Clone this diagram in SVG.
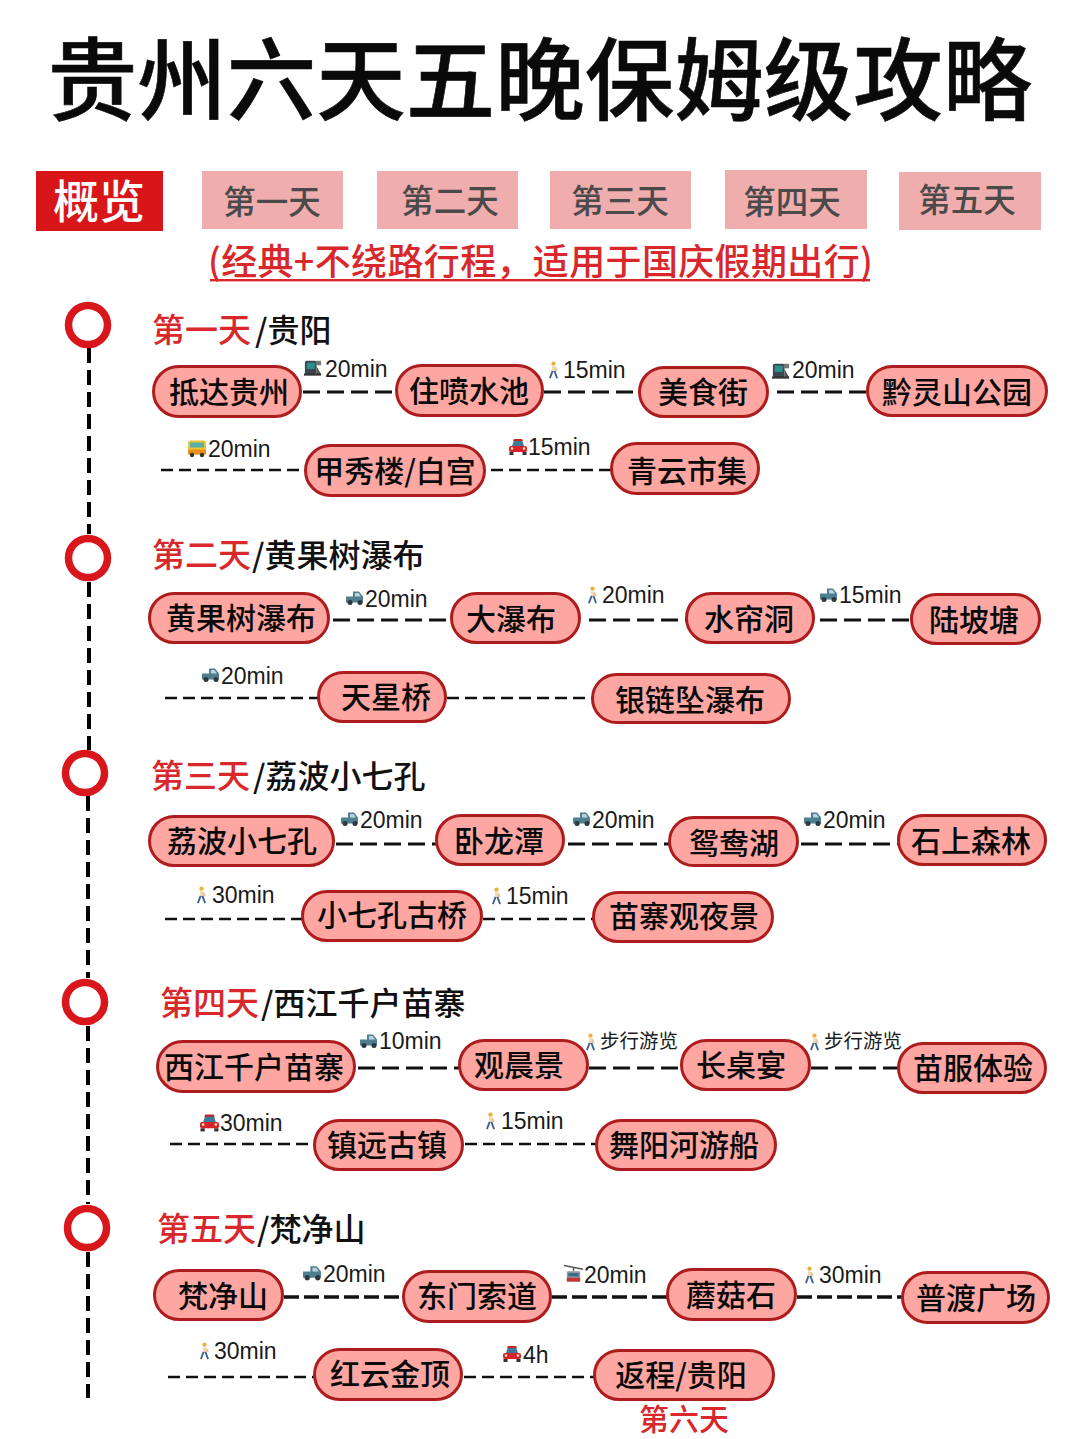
<svg xmlns="http://www.w3.org/2000/svg" width="1080" height="1439" viewBox="0 0 1080 1439">
<style>
text{font-family:"Noto Sans CJK SC","Liberation Sans",sans-serif}
.title{font-size:89.5px;font-weight:500;fill:#0a0a0a;stroke:#0a0a0a;stroke-width:0.6;text-anchor:middle}
.tab{fill:#f0adae}
.tabt{font-size:32.5px;fill:#4a4a4a;font-weight:500;text-anchor:middle}
.sub{font-size:36px;fill:#d8282c;font-weight:500;letter-spacing:0.35px}
.hr{font-size:33px;fill:#d8282c;font-weight:500}
.hb{font-size:32px;fill:#111;font-weight:500}
.pill{fill:#fda6a2;stroke:#ae1d1d;stroke-width:3}
.nt{font-size:30px;fill:#0a0a0a;font-weight:500;text-anchor:middle}
.ring{fill:#fff;stroke:#d8161c;stroke-width:7.5}
.spine{stroke:#000;stroke-width:4;stroke-dasharray:15 7;fill:none}
.c{stroke:#111;stroke-width:3;stroke-dasharray:17 7;fill:none}
.c2{stroke:#111;stroke-width:2.6;stroke-dasharray:12 6;fill:none}
.c3{stroke:#111;stroke-width:3.6;stroke-dasharray:15 5;fill:none}
.t{font-family:"Liberation Sans",sans-serif;font-size:23px;fill:#1a1a1a}
.w{font-size:19.5px;fill:#1a1a1a}
</style>
<defs>
<symbol id="train" viewBox="0 1 20 18"><rect x="1" y="2" width="13" height="15" rx="2" fill="#3c4650"/><rect x="3" y="4" width="9" height="7" fill="#2f8f8f"/><rect x="13" y="2" width="6" height="5" fill="#777"/><path d="M14 8l5 9h-5z" fill="#555"/><rect x="0" y="16" width="19" height="2.5" fill="#333"/></symbol>
<symbol id="walk" viewBox="0 0 12 20"><circle cx="6" cy="3" r="2.4" fill="#e8b23a"/><path d="M4 6h4l1 6H5z" fill="#f0d9a8"/><path d="M5 11l-3 8M7 11l3 8" stroke="#3d5f8f" stroke-width="2" fill="none"/><path d="M8 7l2 4" stroke="#e0c090" stroke-width="1.4"/></symbol>
<symbol id="bus" viewBox="1 2 18 17"><rect x="1" y="2" width="18" height="14" rx="3" fill="#f2c230"/><rect x="3" y="4" width="14" height="5" fill="#5bb0a8"/><rect x="1" y="11" width="18" height="5" fill="#e98f1f"/><circle cx="5" cy="16.5" r="2.2" fill="#333"/><circle cx="15" cy="16.5" r="2.2" fill="#333"/></symbol>
<symbol id="car" viewBox="1 2 18 16"><path d="M4 9l2-6h8l2 6z" fill="#3b7a9a"/><path d="M6 2h8l1 2H5z" fill="#c8242a"/><rect x="1" y="9" width="18" height="6" rx="2" fill="#d6222a"/><rect x="1.5" y="15" width="4" height="3" fill="#333"/><rect x="14.500" y="15" width="4" height="3" fill="#333"/><circle cx="4" cy="11.500" r="1.300" fill="#ffe9a8"/><circle cx="16" cy="11.500" r="1.300" fill="#ffe9a8"/></symbol>
<symbol id="truck" viewBox="1 3 18 15"><path d="M8 4h6l4 5v6H1V9h7z" fill="#4f7f8f"/><path d="M10 5.500h3.500l2.500 3.500h-6z" fill="#b8d4dc"/><circle cx="5" cy="15" r="2.500" fill="#2c3a40"/><circle cx="15" cy="15" r="2.500" fill="#2c3a40"/></symbol>
<symbol id="cable" viewBox="0 0 20 20"><path d="M0 1l20 4" stroke="#555" stroke-width="1.500"/><path d="M10 3v4" stroke="#555" stroke-width="1.500"/><rect x="3" y="7" width="14" height="11" rx="1.500" fill="#8a9aa6"/><rect x="4.500" y="9" width="11" height="3.500" fill="#3e6a8a"/><rect x="3" y="14" width="14" height="4" fill="#c8342f"/></symbol>
</defs>
<rect width="1080" height="1439" fill="#fff"/>

<g id="header">
<text class="title" x="540" y="113">贵州六天五晚保姆级攻略</text>
<rect x="36" y="171" width="127" height="60" fill="#d81518"/>
<text x="99" y="218" font-size="46" font-weight="500" fill="#fff" text-anchor="middle">概览</text>
<rect class="tab" x="202" y="171" width="141" height="58"/><text class="tabt" x="272" y="214">第一天</text>
<rect class="tab" x="377" y="171" width="141" height="58"/><text class="tabt" x="450" y="213">第二天</text>
<rect class="tab" x="550" y="171" width="141" height="58"/><text class="tabt" x="620" y="213">第三天</text>
<rect class="tab" x="725" y="170" width="142" height="59"/><text class="tabt" x="792" y="214">第四天</text>
<rect class="tab" x="899" y="172" width="142" height="58"/><text class="tabt" x="967" y="212">第五天</text>
<text class="sub" x="208" y="275">(经典+不绕路行程&#xFF0C;适用于国庆假期出行)</text>
<rect x="210" y="279" width="660" height="2.400" fill="#d8282c"/>
</g>

<g id="timeline">
<path class="spine" d="M89 348V534M89 582V750M88 796V978M88 1026V1204M88 1252V1398"/>
<circle class="ring" cx="88" cy="325" r="19.500"/>
<circle class="ring" cx="88" cy="558" r="19.500"/>
<circle class="ring" cx="85" cy="773" r="19.500"/>
<circle class="ring" cx="85" cy="1002" r="19.500"/>
<circle class="ring" cx="87" cy="1228" r="19.500"/>
</g>

<g id="headings">
<text class="hr" x="152" y="342">第一天</text><text class="hb" x="255" y="342">/贵阳</text>
<text class="hr" x="152" y="567">第二天</text><text class="hb" x="252" y="567">/黄果树瀑布</text>
<text class="hr" x="151" y="788">第三天</text><text class="hb" x="253" y="788">/荔波小七孔</text>
<text class="hr" x="160" y="1015">第四天</text><text class="hb" x="261" y="1015">/西江千户苗寨</text>
<text class="hr" x="157" y="1241">第五天</text><text class="hb" x="257" y="1241">/梵净山</text>
</g>

<g id="connectors">
<path class="c" d="M303 392H396M544 392H639M777 392H866"/>
<path class="c2" d="M161 470H305M491 470H611"/>
<path class="c" d="M333 620H450M589 620H686M820 620H911"/>
<path class="c2" d="M165 698H318M447 698H592"/>
<path class="c" d="M336 844H436M568 844H669M801 844H898"/>
<path class="c2" d="M165 919H302M483 919H593"/>
<path class="c" d="M358 1068H459M589 1068H681M811 1068H898"/>
<path class="c2" d="M170 1144H314M465 1144H596"/>
<path class="c3" d="M284 1297H403M552 1297H667M797 1297H902"/>
<path class="c2" d="M168 1377H314M464 1377H594"/>
</g>

<g id="labels">
<use href="#train" x="304" y="359" width="18" height="18"/><text class="t" x="325" y="377">20min</text>
<use href="#walk" x="548" y="361" width="11" height="18"/><text class="t" x="563" y="378">15min</text>
<use href="#train" x="772" y="362" width="18" height="18"/><text class="t" x="792" y="378">20min</text>
<use href="#bus" x="188" y="440" width="18" height="18"/><text class="t" x="208" y="457">20min</text>
<use href="#car" x="509" y="438" width="18" height="18"/><text class="t" x="528" y="455">15min</text>
<use href="#truck" x="346" y="590" width="18" height="16"/><text class="t" x="365" y="607">20min</text>
<use href="#walk" x="587" y="586" width="11" height="18"/><text class="t" x="602" y="603">20min</text>
<use href="#truck" x="820" y="587" width="18" height="16"/><text class="t" x="839" y="603">15min</text>
<use href="#truck" x="202" y="667" width="18" height="16"/><text class="t" x="221" y="684">20min</text>
<use href="#truck" x="341" y="811" width="18" height="16"/><text class="t" x="360" y="828">20min</text>
<use href="#truck" x="573" y="811" width="18" height="16"/><text class="t" x="592" y="828">20min</text>
<use href="#truck" x="804" y="811" width="18" height="16"/><text class="t" x="823" y="828">20min</text>
<use href="#walk" x="196" y="886" width="11" height="18"/><text class="t" x="212" y="903">30min</text>
<use href="#walk" x="491" y="887" width="11" height="18"/><text class="t" x="506" y="904">15min</text>
<use href="#truck" x="360" y="1033" width="18" height="16"/><text class="t" x="379" y="1049">10min</text>
<use href="#walk" x="585" y="1033" width="11" height="18"/><text class="w" x="600" y="1048">步行游览</text>
<use href="#walk" x="809" y="1033" width="11" height="18"/><text class="w" x="824" y="1048">步行游览</text>
<use href="#car" x="200" y="1114" width="19" height="18"/><text class="t" x="220" y="1131">30min</text>
<use href="#walk" x="485" y="1112" width="11" height="18"/><text class="t" x="501" y="1129">15min</text>
<use href="#truck" x="303" y="1265" width="19" height="16"/><text class="t" x="323" y="1282">20min</text>
<use href="#cable" x="564" y="1264" width="19" height="20"/><text class="t" x="584" y="1283">20min</text>
<use href="#walk" x="804" y="1266" width="11" height="18"/><text class="t" x="819" y="1283">30min</text>
<use href="#walk" x="199" y="1342" width="11" height="18"/><text class="t" x="214" y="1359">30min</text>
<use href="#car" x="503" y="1345" width="18" height="18"/><text class="t" x="523" y="1363">4h</text>
<text x="684" y="1430" font-size="30" font-weight="500" fill="#d8282c" text-anchor="middle">第六天</text>
</g>

<g id="n-d1-1"><rect class="pill" x="153.500" y="366.500" width="147" height="50" rx="25"/><text class="nt" x="229" y="403">抵达贵州</text></g>
<g id="n-d1-2"><rect class="pill" x="396.500" y="365.500" width="146" height="50" rx="25"/><text class="nt" x="469" y="402">住喷水池</text></g>
<g id="n-d1-3"><rect class="pill" x="639.500" y="367.500" width="128" height="49" rx="24.500"/><text class="nt" x="703" y="403">美食街</text></g>
<g id="n-d1-4"><rect class="pill" x="867.500" y="366.500" width="179" height="49" rx="24.500"/><text class="nt" x="957" y="403">黔灵山公园</text></g>
<g id="n-d1-5"><rect class="pill" x="305.500" y="445.500" width="179" height="50" rx="25"/><text class="nt" x="395" y="482">甲秀楼/白宫</text></g>
<g id="n-d1-6"><rect class="pill" x="611.500" y="443.500" width="147" height="50" rx="25"/><text class="nt" x="687" y="482">青云市集</text></g>

<g id="n-d2-1"><rect class="pill" x="149.500" y="593.500" width="179" height="49" rx="24.500"/><text class="nt" x="241" y="629">黄果树瀑布</text></g>
<g id="n-d2-2"><rect class="pill" x="451.500" y="593.500" width="128" height="49" rx="24.500"/><text class="nt" x="511" y="630">大瀑布</text></g>
<g id="n-d2-3"><rect class="pill" x="686.500" y="593.500" width="127" height="49" rx="24.500"/><text class="nt" x="749" y="630">水帘洞</text></g>
<g id="n-d2-4"><rect class="pill" x="911.500" y="594.500" width="128" height="49" rx="24.500"/><text class="nt" x="974" y="631">陆坡塘</text></g>
<g id="n-d2-5"><rect class="pill" x="318.500" y="672.500" width="127" height="49" rx="24.500"/><text class="nt" x="386" y="708">天星桥</text></g>
<g id="n-d2-6"><rect class="pill" x="592.500" y="674.500" width="197" height="48" rx="24"/><text class="nt" x="690" y="711">银链坠瀑布</text></g>

<g id="n-d3-1"><rect class="pill" x="149.500" y="816.500" width="184" height="49" rx="24.500"/><text class="nt" x="242" y="852">荔波小七孔</text></g>
<g id="n-d3-2"><rect class="pill" x="436.500" y="815.500" width="127" height="49" rx="24.500"/><text class="nt" x="499" y="852">卧龙潭</text></g>
<g id="n-d3-3"><rect class="pill" x="669.500" y="817.500" width="128" height="48" rx="24"/><text class="nt" x="734" y="854">鸳鸯湖</text></g>
<g id="n-d3-4"><rect class="pill" x="898.500" y="815.500" width="147" height="49" rx="24.500"/><text class="nt" x="971" y="852">石上森林</text></g>
<g id="n-d3-5"><rect class="pill" x="302.500" y="891.500" width="179" height="49" rx="24.500"/><text class="nt" x="392" y="926">小七孔古桥</text></g>
<g id="n-d3-6"><rect class="pill" x="593.500" y="892.500" width="179" height="49" rx="24.500"/><text class="nt" x="684" y="927">苗寨观夜景</text></g>

<g id="n-d4-1"><rect class="pill" x="157.500" y="1041.500" width="197" height="50" rx="25"/><text class="nt" x="254" y="1078">西江千户苗寨</text></g>
<g id="n-d4-2"><rect class="pill" x="459.500" y="1040.500" width="128" height="49" rx="24.500"/><text class="nt" x="519" y="1076">观晨景</text></g>
<g id="n-d4-3"><rect class="pill" x="681.500" y="1040.500" width="128" height="49" rx="24.500"/><text class="nt" x="741" y="1076">长桌宴</text></g>
<g id="n-d4-4"><rect class="pill" x="898.500" y="1043.500" width="147" height="49" rx="24.500"/><text class="nt" x="973" y="1079">苗服体验</text></g>
<g id="n-d4-5"><rect class="pill" x="314.500" y="1120.500" width="148" height="49" rx="24.500"/><text class="nt" x="387" y="1156">镇远古镇</text></g>
<g id="n-d4-6"><rect class="pill" x="596.500" y="1120.500" width="179" height="49" rx="24.500"/><text class="nt" x="684" y="1156">舞阳河游船</text></g>

<g id="n-d5-1"><rect class="pill" x="154.500" y="1270.500" width="128" height="49" rx="24.500"/><text class="nt" x="223" y="1307">梵净山</text></g>
<g id="n-d5-2"><rect class="pill" x="403.500" y="1271.500" width="147" height="50" rx="25"/><text class="nt" x="477" y="1307">东门索道</text></g>
<g id="n-d5-3"><rect class="pill" x="667.500" y="1269.500" width="128" height="50" rx="25"/><text class="nt" x="731" y="1306">蘑菇石</text></g>
<g id="n-d5-4"><rect class="pill" x="902.500" y="1272.500" width="146" height="50" rx="25"/><text class="nt" x="976" y="1309">普渡广场</text></g>
<g id="n-d5-5"><rect class="pill" x="314.500" y="1349.500" width="147" height="50" rx="25"/><text class="nt" x="390" y="1385">红云金顶</text></g>
<g id="n-d5-6"><rect class="pill" x="594.500" y="1350.500" width="179" height="49" rx="24.500"/><text class="nt" x="681" y="1386">返程/贵阳</text></g>
</svg>
